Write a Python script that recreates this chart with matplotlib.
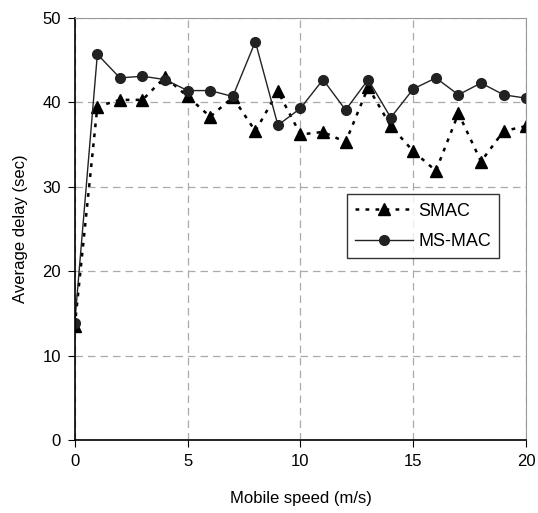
import matplotlib
matplotlib.use("Agg")
import matplotlib.pyplot as plt

speed = list(range(21))
smac = [13.5, 39.5, 40.3, 40.3, 43.0, 40.7, 38.3, 40.6, 36.6, 41.3, 36.2,
        36.5, 35.3, 41.8, 37.2, 34.2, 31.9, 38.7, 33.0, 36.6, 37.2]
msmac = [13.9, 45.7, 42.9, 43.1, 42.7, 41.4, 41.4, 40.7, 47.2, 37.3, 39.3,
         42.7, 39.1, 42.7, 38.2, 41.6, 42.9, 40.9, 42.3, 40.9, 40.5]
xticks = [0, 5, 10, 15, 20]
yticks = [0, 10, 20, 30, 40, 50]

plt.rcParams["font.family"] = ["Liberation Sans", "DejaVu Sans"]

fig = plt.figure(figsize=(5.38, 5.13), dpi=100)
ax = fig.add_axes([0.139, 0.142, 0.839, 0.823])

ax.plot(speed, smac, color="black", ls=(0, (1.5, 2.5)), lw=1.8,
        marker="^", ms=8, label="SMAC")
ax.plot(speed, msmac, color="#222222", ls="-", lw=1.0,
        marker="o", ms=7, label="MS-MAC")

ax.set_xlim(0, 20)
ax.set_ylim(0, 50)
ax.set_xticks(xticks)
ax.set_yticks(yticks)
ax.tick_params(direction="out", length=5, labelsize=12, color="black", pad=5)
ax.grid(True, color="#aaaaaa", ls=(0, (6, 4)), lw=0.9)
ax.set_axisbelow(True)

for s in ("top", "right"):
    ax.spines[s].set_color("#999999")
for s in ("left", "bottom"):
    ax.spines[s].set_color("black")
    ax.spines[s].set_linewidth(1.2)

ax.set_xlabel("Mobile speed (m/s)", fontsize=12, labelpad=16)
ax.set_ylabel("Average delay (sec)", fontsize=12, labelpad=10)

leg = ax.legend(loc="upper left", bbox_to_anchor=(0.603, 0.582), fontsize=13,
                frameon=True, fancybox=False, edgecolor="black",
                handlelength=3.2, borderpad=0.45, labelspacing=0.75,
                handletextpad=0.3, borderaxespad=0)
leg.get_frame().set_linewidth(1.0)

fig.savefig("out.png", dpi=100)
